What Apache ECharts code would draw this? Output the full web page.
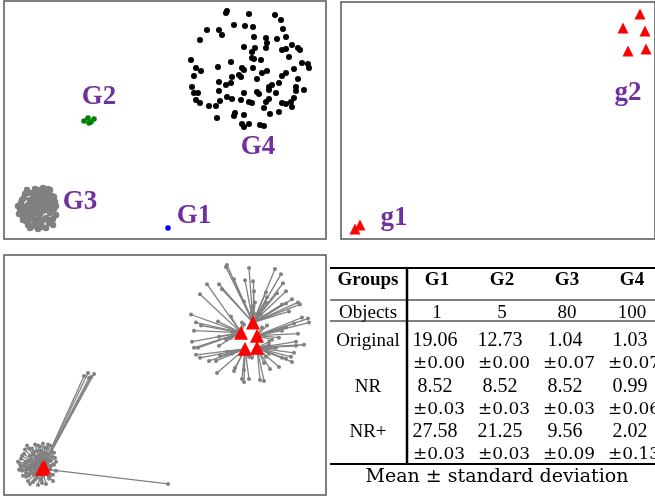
<!DOCTYPE html>
<html>
<head>
<meta charset="utf-8">
<script src="https://cdn.jsdelivr.net/npm/echarts@6/dist/echarts.min.js"></script>
<style>
html, body { margin: 0; padding: 0; background: #fff; }
#chart { width: 655px; height: 496px; }
</style>
</head>
<body>
<div id="chart"></div>
<script>
// ---- original space: 4 groups ----
var g4Points = [
    [22.2, 22.6], [22.3, 22.8], [24.5, 22.5], [27.1, 22.4], [27.7, 21.9], [23.0, 21.4], [24.1, 21.3], [24.9, 21.2],
    [20.3, 20.9], [21.5, 20.9], [21.8, 20.4], [27.9, 21.0], [25.0, 20.2], [26.2, 20.1], [26.3, 19.6], [27.3, 20.0],
    [28.2, 20.2], [19.6, 19.9], [24.0, 19.2], [24.8, 18.7], [26.2, 19.1], [27.8, 18.9], [28.2, 19.0], [28.8, 19.4],
    [29.4, 19.1], [29.6, 18.9], [24.8, 18.1], [25.0, 18.0], [25.7, 17.9], [18.7, 17.9], [22.7, 17.7], [29.8, 17.6],
    [30.4, 17.5], [30.5, 17.1], [19.2, 17.1], [19.7, 16.8], [21.4, 17.2], [23.8, 17.1], [24.0, 16.9], [24.9, 17.1],
    [26.3, 16.8], [25.8, 16.6], [28.2, 16.6], [27.8, 16.3], [29.0, 17.0], [19.0, 16.3], [23.5, 16.4], [23.7, 16.2],
    [25.3, 16.0], [21.5, 15.7], [22.7, 15.6], [22.2, 15.4], [27.5, 15.6], [29.4, 16.0], [18.8, 15.2], [26.5, 15.2],
    [26.8, 15.4], [29.2, 15.2], [29.2, 14.8], [30.0, 14.9], [19.0, 14.6], [19.4, 14.6], [21.5, 14.8], [24.0, 14.6],
    [25.3, 14.7], [25.5, 14.5], [26.5, 14.9], [22.3, 14.2], [22.8, 14.0], [19.2, 13.9], [19.6, 13.6], [20.5, 13.3],
    [21.2, 13.3], [21.6, 13.8], [23.7, 13.9], [24.5, 13.7], [24.8, 13.6], [26.2, 13.7], [26.5, 14.0], [27.8, 13.6],
    [28.2, 13.5], [28.7, 13.7], [29.0, 14.1], [28.8, 13.2], [26.0, 13.1], [27.5, 12.7], [26.6, 12.5], [23.1, 12.6],
    [23.0, 12.3], [24.0, 12.4], [21.3, 12.1], [23.8, 11.5], [24.0, 11.2], [24.5, 11.5], [25.6, 11.4], [26.0, 11.3],
    [25.1, 19.1], [28.5, 18.2], [22.8, 16.2], [27.2, 14.6]
];
var g3Points = [
    [1.6, 3.0], [1.8, 2.4], [1.7, 3.6], [2.0, 4.1], [2.2, 1.8], [2.3, 2.7], [2.1, 3.2], [2.5, 4.6], [2.6, 3.9], [2.4, 1.4],
    [2.8, 2.2], [2.9, 3.0], [2.7, 3.5], [3.0, 4.3], [3.1, 1.5], [3.2, 2.6], [3.3, 3.8], [3.4, 4.9], [3.5, 2.0], [3.6, 3.2],
    [3.7, 4.4], [3.8, 1.2], [3.9, 2.8], [4.0, 3.6], [4.1, 4.7], [4.2, 2.1], [4.3, 3.1], [4.4, 4.0], [4.5, 1.6], [4.6, 2.6],
    [4.7, 3.4], [4.8, 4.3], [4.9, 2.0], [5.0, 3.0], [5.1, 3.7], [4.6, 4.9], [3.9, 5.1], [3.1, 5.0], [2.3, 4.9], [1.5, 2.5],
    [1.4, 3.3], [1.9, 1.9], [2.6, 1.1], [3.4, 1.0], [4.2, 1.1], [4.9, 1.4], [5.2, 2.4], [5.2, 3.3], [5.0, 4.2], [4.4, 5.0],
    [2.0, 2.9], [2.4, 3.4], [2.9, 4.0], [3.3, 4.4], [3.6, 2.5], [3.0, 2.0], [2.6, 2.5], [3.8, 3.5], [4.1, 2.9], [4.4, 3.5],
    [3.5, 4.0], [2.8, 4.6], [2.2, 2.2], [1.8, 3.9], [3.3, 1.7], [3.9, 1.9], [4.6, 1.9], [4.8, 3.8], [4.0, 4.2], [3.2, 3.3],
    [2.7, 2.9], [2.5, 1.9], [3.7, 1.5], [4.3, 4.6], [1.7, 2.7], [2.1, 4.5], [3.6, 4.8], [4.7, 2.9], [2.9, 1.3], [3.4, 2.9]
];
var g2Points = [[8.0, 11.8], [8.4, 12.1], [8.7, 11.7], [9.0, 12.0], [8.5, 11.6]];
var g1Points = [[16.4, 1.1]];
var groupLabels = [['G1', 19.0, 2.3], ['G2', 9.5, 14.2], ['G3', 7.6, 3.7], ['G4', 25.4, 9.2]];

// ---- representatives (top right) ----
var repG1 = [[1.4, 1.0], [1.9, 1.4]];
var repG2 = [[29.9, 22.5], [28.2, 21.1], [30.4, 20.8], [28.7, 18.8], [30.5, 19.0]];
var repLabels = [['g1', 5.3, 2.1], ['g2', 28.7, 14.6]];

// ---- representatives put back in original space (bottom left) ----
var repG1Orig = [[3.8, 2.6], [4.0, 2.8]];
var repG2Orig = [[24.9, 17.1], [23.7, 16.1], [25.3, 15.8], [24.1, 14.5], [25.3, 14.6]];

// ---- table ----
var tableHead = ['Groups', 'G1', 'G2', 'G3', 'G4'];
var objectCounts = ['1', '5', '80', '100'];
var rowNames = ['Original', 'NR', 'NR+'];
var meanVals = [['19.06', '12.73', '1.04', '1.03'], ['8.52', '8.52', '8.52', '0.99'], ['27.58', '21.25', '9.56', '2.02']];
var stdVals = [['0.00', '0.00', '0.07', '0.07'], ['0.03', '0.03', '0.03', '0.06'], ['0.03', '0.03', '0.09', '0.13']];
var tableNote = 'Mean \u00b1 standard deviation';

var purple = '#7030A0';
var serif = 'Liberation Serif';

function labelData(list) {
    return list.map(function (d) { return {name: d[0], value: [d[1], d[2]]}; });
}

function nearest(p, reps) {
    var best = reps[0], bd = Infinity;
    reps.forEach(function (r) {
        var d = (p[0] - r[0]) * (p[0] - r[0]) + (p[1] - r[1]) * (p[1] - r[1]);
        if (d < bd) { bd = d; best = r; }
    });
    return best;
}

// links from each object to its representative
var links = [];
g4Points.forEach(function (p) { links.push({coords: [p, nearest(p, repG2Orig)]}); });
g3Points.concat(g2Points, g1Points).forEach(function (p) { links.push({coords: [p, repG1Orig[0]]}); });

function hiddenAxis(idx, max) {
    return {gridIndex: idx, type: 'value', min: 0, max: max, show: false};
}

function dots(idx, data, size, color, symbol) {
    return {
        type: 'scatter', xAxisIndex: idx, yAxisIndex: idx, data: data,
        symbol: symbol || 'circle', symbolSize: size, itemStyle: {color: color, opacity: 1}
    };
}

var labelStyle = {
    show: true, position: 'inside', formatter: '{b}',
    fontFamily: serif, fontWeight: 'bold', fontSize: 27, color: purple, opacity: 1
};

// table drawn with graphic elements
var colX = [368, 437, 502, 567, 632];
var graphics = [];
function hline(y, w) {
    graphics.push({type: 'line', shape: {x1: 330, y1: y, x2: 655, y2: y}, style: {stroke: '#000', lineWidth: w}});
}
function txt(s, x, y, size, bold, family) {
    graphics.push({
        type: 'text', x: x, y: y,
        style: {
            text: s, align: 'center', verticalAlign: 'middle', fill: '#000',
            fontSize: size, fontWeight: bold ? 'bold' : 'normal', fontFamily: family || serif
        }
    });
}
hline(268, 2);
hline(300, 1.2);
hline(321, 1.2);
hline(464, 2);
graphics.push({type: 'line', shape: {x1: 407, y1: 268, x2: 407, y2: 464}, style: {stroke: '#000', lineWidth: 2.5}});

tableHead.forEach(function (h, i) { txt(h, colX[i], 280, 19, true); });
txt('Objects', colX[0], 313, 19);
objectCounts.forEach(function (c, i) { txt(c, colX[i + 1], 313, 19); });
rowNames.forEach(function (name, r) {
    var y = 341 + r * 45.6;
    txt(name, colX[0], y, 19);
    meanVals[r].forEach(function (v, i) { txt(v, colX[i + 1] - 2, y, 20); });
    stdVals[r].forEach(function (v, i) { txt('\u00b1' + v, colX[i + 1] + 2, y + 22.8, 17, false, 'DejaVu Serif'); });
});
txt(tableNote, 497, 477, 19, false, 'DejaVu Serif');

var myChart = echarts.init(document.getElementById('chart'));
myChart.setOption({
    animation: false,
    grid: [
        {left: 4, top: 1, width: 322, height: 238, show: true, borderColor: '#555', borderWidth: 1.5},
        // right side of this panel is cut off by the page edge
        {left: 341, top: 2, right: 0, height: 237, show: true, borderColor: '#555', borderWidth: 1.5},
        {left: 4, top: 255, width: 322, height: 240, show: true, borderColor: '#555', borderWidth: 1.5}
    ],
    xAxis: [hiddenAxis(0, 32.2), hiddenAxis(1, 31.4), hiddenAxis(2, 32.2)],
    yAxis: [hiddenAxis(0, 23.8), hiddenAxis(1, 23.7), hiddenAxis(2, 23.8)],
    series: [
        // top left
        dots(0, g4Points, 6, '#000'),
        dots(0, g3Points, 6.5, '#808080'),
        dots(0, g2Points, 5.5, '#008000'),
        dots(0, g1Points, 5.5, '#0000FF'),
        {type: 'scatter', xAxisIndex: 0, yAxisIndex: 0, data: labelData(groupLabels), symbolSize: 0,
            itemStyle: {opacity: 1}, label: labelStyle},
        // top right
        dots(1, repG1.concat(repG2), 11, '#FF0000', 'triangle'),
        {type: 'scatter', xAxisIndex: 1, yAxisIndex: 1, data: labelData(repLabels), symbolSize: 0,
            itemStyle: {opacity: 1}, label: labelStyle},
        // bottom left
        {type: 'lines', coordinateSystem: 'cartesian2d', xAxisIndex: 2, yAxisIndex: 2, data: links,
            lineStyle: {color: '#808080', width: 1.3, opacity: 1}},
        dots(2, g4Points.concat(g3Points, g2Points, g1Points), 4, '#808080'),
        dots(2, repG1Orig.concat(repG2Orig), 14, '#FF0000', 'triangle')
    ],
    graphic: graphics
});
</script>
</body>
</html>
